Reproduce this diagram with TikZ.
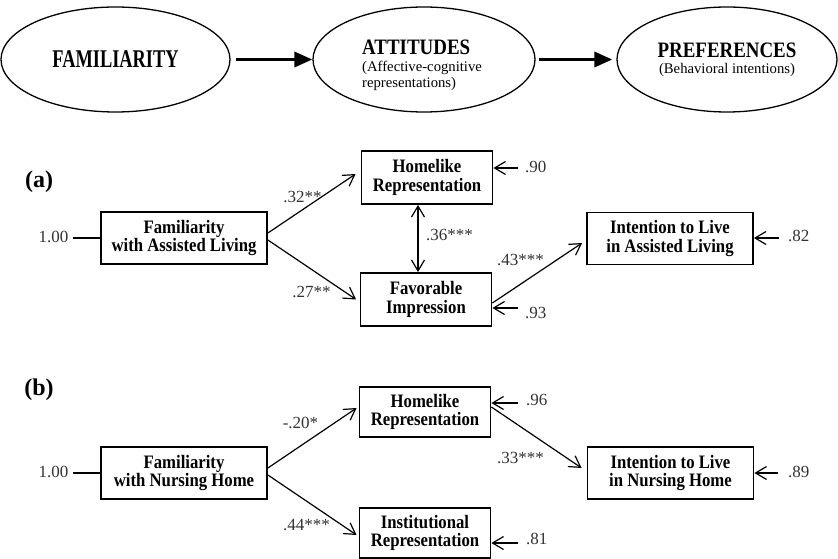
\documentclass[tikz,border=0pt]{standalone}
\usepackage{fontspec}
\setmainfont{Liberation Serif}
\newfontfamily\boxfont[FakeStretch=0.88]{Liberation Serif}
\newfontfamily\headfont[FakeStretch=0.86]{Liberation Serif}
\newfontfamily\famfont[FakeStretch=0.72]{Liberation Serif}
\usetikzlibrary{shapes.geometric,arrows.meta,calc}
\definecolor{NumText}{RGB}{50,50,50}
\tikzset{
  nd_oval/.style={
    ellipse, draw, line width=1.3bp, inner sep=0pt,
    minimum height=105bp},
  nd_head/.style={
    inner sep=0pt, font=\fontsize{14.7bp}{16bp}\selectfont},
  nd_box/.style={
    rectangle, draw, line width=1.8bp,
    minimum width=131bp, minimum height=53bp,
    align=center, inner sep=0pt,
    font=\boxfont\fontsize{19bp}{18.3bp}\selectfont\bfseries},
  nd_wide/.style={
    nd_box, minimum width=166bp, minimum height=52bp},
  nd_num/.style={
    inner sep=1.5bp, text=NumText,
    font=\fontsize{17bp}{19bp}\selectfont},
  nd_panel/.style={
    inner sep=0pt, font=\fontsize{24bp}{28bp}\selectfont\bfseries},
  bigarr/.style={-{Triangle[length=18bp,width=15bp]},line width=3.5bp},
  arr/.style={-{Straight Barb[length=11bp,width=13bp]},line width=1.2bp},
  dblarr/.style={{Straight Barb[length=11bp,width=13bp]}-{Straight Barb[length=11bp,width=13bp]},line width=1.2bp},
  ln/.style={line width=1.2bp},
}
\begin{document}
\begin{tikzpicture}[x=1bp,y=-1bp]
\useasboundingbox (0,0) rectangle (838,559);

\node[nd_oval, minimum width=229bp, font=\famfont\fontsize{25.5bp}{26bp}\selectfont\bfseries] (fam) at (115.5,59.5) {FAMILIARITY};
\node[nd_oval, minimum width=222bp] (att) at (424,59.5) {};
\node[nd_head, align=left, anchor=west] (attT) at (362,65) {{\headfont\fontsize{22bp}{20bp}\selectfont\bfseries ATTITUDES}\\[1bp] (Affective-cognitive\\ representations)};
\node[nd_oval, nd_head, minimum width=220bp, align=center] (pref) at (727,59.5) {{\headfont\fontsize{22bp}{20bp}\selectfont\bfseries PREFERENCES}\\ (Behavioral intentions)};
\draw[bigarr, shorten <=5bp] (fam.east) -- (att.west);
\draw[bigarr, shorten <=3bp, shorten >=4bp] (att.east) -- (pref.west);

\node[nd_panel] (pa) at (39,182) {(a)};
\node[nd_wide] (famA) at (184,238) {Familiarity\\with Assisted Living};
\node[nd_box] (homeA) at (427,177.5) {Homelike\\Representation};
\node[nd_box] (favA) at (426,299.5) {Favorable\\Impression};
\node[nd_wide] (intA) at (670,238.5) {Intention to Live\\in Assisted Living};
\node[nd_num, anchor=east] (n100a) at (70,237) {1.00};
\draw[ln, shorten <=3bp] (n100a.east |- famA.west) -- (famA.west);
\draw[arr] ($(famA.east)+(0,-5)$) -- ($(homeA.west)+(-5,-3.5)$);
\draw[arr] ($(famA.east)+(0,2)$) -- ($(favA.west)+(-3.5,0)$);
\draw[dblarr] ($(homeA.south)+(-9,0)$) -- ($(favA.north)+(-8,0)$);
\draw[arr] ($(favA.east)+(0,3.5)$) -- ($(intA.west)+(-4,4.5)$);
\node[nd_num] (p32) at (302.5,197) {.32**};
\node[nd_num] (p27) at (311.5,292) {.27**};
\node[nd_num, anchor=west] (p36) at (424.5,235) {.36***};
\node[nd_num] (p43) at (520.5,260) {.43***};
\coordinate (r90) at (518,168);
\coordinate (r93) at (518,308);
\coordinate (r82) at (779,238);
\node[nd_num, anchor=west] (e90) at (523.5,167) {.90};
\node[nd_num, anchor=west] (e93) at (523.5,313) {.93};
\node[nd_num, anchor=west] (e82) at (786.5,236) {.82};
\draw[arr] (r90) -- (r90 -| homeA.east);
\draw[arr] (r93) -- (r93 -| favA.east);
\draw[arr] (r82) -- (r82 -| intA.east);

\node[nd_panel] (pb) at (39,390) {(b)};
\node[nd_wide] (famB) at (184,473) {Familiarity\\with Nursing Home};
\node[nd_box, minimum height=50bp] (homeB) at (425,412) {Homelike\\Representation};
\node[nd_box, minimum height=50bp] (instB) at (425,533) {Institutional\\Representation};
\node[nd_wide] (intB) at (670.5,473) {Intention to Live\\in Nursing Home};
\node[nd_num, anchor=east] (n100b) at (70,472) {1.00};
\draw[ln, shorten <=3bp] (n100b.east |- famB.west) -- (famB.west);
\draw[arr] ($(famB.east)+(0,-5)$) -- ($(homeB.west)+(-2,-4)$);
\draw[arr] ($(famB.east)+(0,2)$) -- ($(instB.west)+(-2,2)$);
\draw[arr] ($(homeB.east)+(0,-5)$) -- ($(intB.west)+(-5,-5)$);
\node[nd_num] (m20) at (300.5,423) {-.20*};
\node[nd_num] (m44) at (306.5,525) {.44***};
\node[nd_num] (m33) at (520.5,458) {.33***};
\coordinate (r96) at (518,403);
\coordinate (r81) at (518,543);
\coordinate (r89) at (778,473);
\node[nd_num, anchor=west] (e96) at (524.5,400) {.96};
\node[nd_num, anchor=west] (e81) at (524.5,539) {.81};
\node[nd_num, anchor=west] (e89) at (786.5,472) {.89};
\draw[arr] (r96) -- (r96 -| homeB.east);
\draw[arr] (r81) -- (r81 -| instB.east);
\draw[arr] (r89) -- (r89 -| intB.east);
\end{tikzpicture}
\end{document}
